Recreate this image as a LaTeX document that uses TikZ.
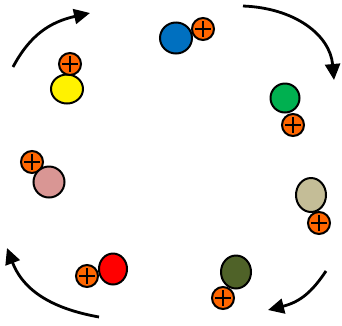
\documentclass[tikz,border=0pt]{standalone}
\usepackage{xcolor}
\usepackage{tikz}
\usetikzlibrary{arrows.meta, shapes.geometric}
\definecolor{plusorange}{HTML}{FF6600}
\definecolor{ionblue}{HTML}{0070C0}
\definecolor{iongreen}{HTML}{00B050}
\definecolor{ionpink}{HTML}{D99694}
\definecolor{ionbeige}{HTML}{C4BD97}
\definecolor{ionolive}{HTML}{4F6228}

\tikzset{
  ion/.style={ellipse, draw, line width=2pt, inner sep=0pt},
  charge/.style={circle, draw, line width=2pt, fill=plusorange, inner sep=0pt, minimum size=22pt,
    path picture={\draw[line width=2pt] ([xshift=3pt]path picture bounding box.west) -- ([xshift=-3pt]path picture bounding box.east)
      ([yshift=-3pt]path picture bounding box.north) -- ([yshift=3pt]path picture bounding box.south);}},
  turn/.style={line width=2.8pt, -{Triangle[length=16pt, width=15pt]}}
}

\begin{document}
\begin{tikzpicture}[x=1pt, y=-1pt]
    \useasboundingbox (0,0) rectangle (342,325);
    % ions
    \node[ion, fill=yellow, minimum width=32pt, minimum height=29pt] (yellow) at (67,89) {};
    \node[ion, fill=ionblue, minimum width=32pt, minimum height=31pt] (blue) at (176,38) {};
    \node[ion, fill=iongreen, minimum width=29pt, minimum height=29pt] (green) at (285,98) {};
    \node[ion, fill=ionbeige, minimum width=30pt, minimum height=34pt] (beige) at (311,195) {};
    \node[ion, fill=ionolive, minimum width=30pt, minimum height=33pt] (olive) at (236,272) {};
    \node[ion, fill=red, minimum width=28pt, minimum height=31pt] (red) at (113,269) {};
    % charges
    \node[charge] (yellowplus) at (70,64) {};
    \node[charge] (blueplus) at (203,29) {};
    \node[charge] (greenplus) at (293,125) {};
    \node[charge] (beigeplus) at (319,223) {};
    \node[charge] (oliveplus) at (223,298) {};
    \node[charge] (redplus) at (87,276) {};
    \node[charge] (pinkplus) at (32,162) {};
    \node[ion, fill=ionpink, minimum width=31pt, minimum height=31pt] (pink) at (49,182) {};
    % turning arrows
    \coordinate (tlstart) at (13,67);
    \coordinate (tlend) at (90,13);
    \coordinate (trstart) at (243,6);
    \coordinate (trend) at (334,80);
    \coordinate (brstart) at (326,271);
    \coordinate (brend) at (268,310);
    \coordinate (blstart) at (99,317);
    \coordinate (blend) at (7,248);
    \draw[turn] (tlstart) .. controls (30,35) and (50,22) .. (tlend);
    \draw[turn] (trstart) .. controls (295,8) and (330,35) .. (trend);
    \draw[turn] (brstart) .. controls (312,292) and (300,302) .. (brend);
    \draw[turn] (blstart) .. controls (60,310) and (25,295) .. (blend);
\end{tikzpicture}
\end{document}
